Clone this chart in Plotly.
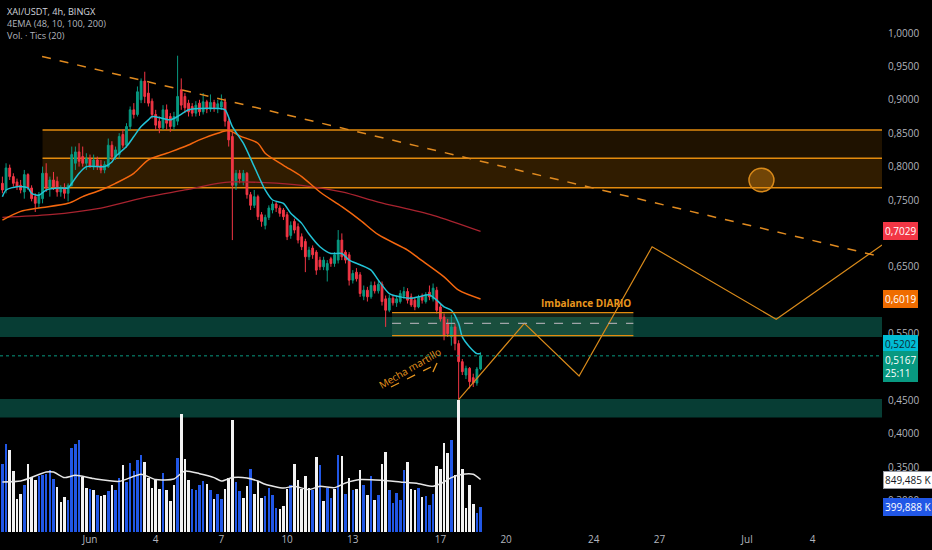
import plotly.graph_objects as go
import pandas as pd

# ---------------- data ----------------
bar_start = "2024-05-28 00:00"
n_bars = 132

opens = [
    0.775, 0.765, 0.798, 0.785, 0.777, 0.772, 0.762, 0.788, 0.768, 0.755,
    0.745, 0.752, 0.790, 0.768, 0.780, 0.778, 0.762, 0.768, 0.760, 0.772,
    0.805, 0.822, 0.815, 0.805, 0.812, 0.800, 0.810, 0.802, 0.795, 0.800,
    0.832, 0.815, 0.818, 0.848, 0.832, 0.860, 0.885, 0.878, 0.900, 0.928,
    0.910, 0.898, 0.878, 0.868, 0.858, 0.885, 0.875, 0.860, 0.868, 0.915,
    0.905, 0.895, 0.890, 0.880, 0.895, 0.882, 0.897, 0.886, 0.896, 0.887,
    0.889, 0.897, 0.868, 0.845, 0.772, 0.790, 0.778, 0.790, 0.758, 0.742,
    0.755, 0.728, 0.712, 0.724, 0.735, 0.744, 0.738, 0.735, 0.728, 0.697,
    0.718, 0.710, 0.695, 0.688, 0.665, 0.678, 0.672, 0.660, 0.650, 0.645,
    0.662, 0.655, 0.660, 0.690, 0.672, 0.668, 0.630, 0.642, 0.638, 0.606,
    0.615, 0.605, 0.622, 0.614, 0.624, 0.602, 0.585, 0.603, 0.596, 0.598,
    0.606, 0.613, 0.605, 0.600, 0.590, 0.606, 0.598, 0.612, 0.602, 0.615,
    0.590, 0.575, 0.565, 0.545, 0.560, 0.535, 0.508, 0.488, 0.498, 0.484,
    0.476, 0.497,
]
highs = [
    0.785, 0.805, 0.803, 0.790, 0.782, 0.780, 0.795, 0.790, 0.772, 0.760,
    0.762, 0.800, 0.805, 0.785, 0.792, 0.785, 0.772, 0.775, 0.775, 0.830,
    0.830, 0.835, 0.830, 0.820, 0.818, 0.818, 0.815, 0.810, 0.808, 0.842,
    0.838, 0.830, 0.850, 0.856, 0.865, 0.890, 0.895, 0.920, 0.932, 0.942,
    0.925, 0.902, 0.885, 0.875, 0.892, 0.893, 0.880, 0.882, 0.966, 0.932,
    0.910, 0.900, 0.895, 0.898, 0.900, 0.910, 0.900, 0.908, 0.900, 0.900,
    0.908, 0.902, 0.872, 0.852, 0.795, 0.795, 0.795, 0.792, 0.762, 0.765,
    0.758, 0.732, 0.728, 0.742, 0.748, 0.748, 0.742, 0.738, 0.732, 0.718,
    0.722, 0.715, 0.700, 0.692, 0.680, 0.682, 0.675, 0.665, 0.665, 0.660,
    0.665, 0.672, 0.705, 0.700, 0.675, 0.672, 0.645, 0.648, 0.642, 0.622,
    0.620, 0.628, 0.628, 0.630, 0.628, 0.607, 0.608, 0.607, 0.607, 0.615,
    0.620, 0.618, 0.610, 0.605, 0.608, 0.610, 0.612, 0.622, 0.625, 0.620,
    0.595, 0.580, 0.572, 0.578, 0.565, 0.540, 0.512, 0.502, 0.500, 0.490,
    0.500, 0.522,
]
lows = [
    0.760, 0.760, 0.780, 0.770, 0.765, 0.760, 0.752, 0.765, 0.748, 0.732,
    0.738, 0.745, 0.762, 0.755, 0.765, 0.755, 0.755, 0.752, 0.748, 0.770,
    0.795, 0.800, 0.800, 0.795, 0.798, 0.795, 0.795, 0.790, 0.790, 0.798,
    0.810, 0.810, 0.812, 0.828, 0.828, 0.855, 0.872, 0.875, 0.895, 0.895,
    0.890, 0.872, 0.855, 0.850, 0.855, 0.855, 0.852, 0.855, 0.862, 0.885,
    0.880, 0.875, 0.875, 0.875, 0.876, 0.878, 0.880, 0.882, 0.882, 0.880,
    0.885, 0.860, 0.830, 0.690, 0.765, 0.775, 0.772, 0.752, 0.735, 0.738,
    0.720, 0.710, 0.706, 0.720, 0.730, 0.732, 0.725, 0.720, 0.690, 0.692,
    0.700, 0.685, 0.675, 0.642, 0.660, 0.662, 0.638, 0.645, 0.645, 0.628,
    0.650, 0.650, 0.655, 0.660, 0.655, 0.622, 0.625, 0.628, 0.605, 0.600,
    0.598, 0.602, 0.610, 0.610, 0.592, 0.560, 0.582, 0.592, 0.590, 0.595,
    0.602, 0.595, 0.590, 0.585, 0.588, 0.595, 0.595, 0.600, 0.598, 0.580,
    0.568, 0.540, 0.545, 0.532, 0.525, 0.451, 0.488, 0.482, 0.468, 0.470,
    0.472, 0.495,
]
closes = [
    0.765, 0.798, 0.785, 0.775, 0.770, 0.765, 0.788, 0.768, 0.752, 0.745,
    0.758, 0.790, 0.768, 0.780, 0.770, 0.762, 0.768, 0.760, 0.772, 0.818,
    0.822, 0.808, 0.805, 0.812, 0.800, 0.810, 0.800, 0.795, 0.803, 0.832,
    0.815, 0.825, 0.845, 0.832, 0.860, 0.885, 0.878, 0.912, 0.928, 0.905,
    0.895, 0.878, 0.862, 0.858, 0.885, 0.865, 0.860, 0.875, 0.905, 0.892,
    0.888, 0.882, 0.880, 0.892, 0.882, 0.897, 0.886, 0.896, 0.887, 0.894,
    0.897, 0.868, 0.840, 0.772, 0.790, 0.782, 0.790, 0.758, 0.742, 0.755,
    0.725, 0.718, 0.724, 0.738, 0.744, 0.738, 0.730, 0.725, 0.695, 0.712,
    0.705, 0.690, 0.680, 0.665, 0.675, 0.668, 0.645, 0.650, 0.660, 0.655,
    0.655, 0.668, 0.690, 0.665, 0.660, 0.630, 0.640, 0.632, 0.610, 0.615,
    0.605, 0.622, 0.614, 0.624, 0.598, 0.585, 0.603, 0.596, 0.602, 0.610,
    0.613, 0.600, 0.593, 0.590, 0.604, 0.600, 0.608, 0.605, 0.618, 0.585,
    0.572, 0.548, 0.550, 0.560, 0.535, 0.508, 0.493, 0.498, 0.478, 0.476,
    0.497, 0.5167,
]

volumes_k = [
    1107, 1430, 1322, 987, 540, 621, 755, 1107, 890, 848,
    901, 917, 945, 1010, 858, 728, 485, 566, 524, 1366,
    1430, 1484, 890, 718, 702, 686, 605, 578, 605, 663,
    755, 686, 880, 1079, 809, 1117, 987, 1160, 1241, 1133,
    880, 718, 836, 702, 955, 686, 502, 755, 1204, 1904,
    1188, 848, 702, 675, 755, 825, 772, 675, 540, 610,
    540, 702, 880, 1819, 809, 663, 557, 740, 1026, 621,
    825, 557, 578, 718, 594, 395, 379, 416, 702, 755,
    1107, 848, 702, 901, 718, 686, 1214, 1079, 502, 718,
    557, 702, 1241, 1225, 610, 880, 686, 702, 1010, 755,
    594, 901, 524, 594, 1107, 1294, 675, 469, 631, 513,
    1010, 1133, 702, 675, 718, 566, 578, 432, 610, 1074,
    1026, 1447, 1278, 1495, 917, 2131, 1026, 395, 755, 448,
    307, 399.888,
]
volume_kind = [
    "B", "B", "W", "W", "W", "W", "B", "W", "W", "W",
    "B", "B", "B", "B", "B", "W", "W", "W", "B", "B",
    "B", "B", "W", "W", "B", "W", "B", "W", "W", "B",
    "W", "B", "B", "W", "B", "B", "B", "B", "B", "W",
    "W", "W", "W", "W", "B", "W", "W", "W", "B", "W",
    "W", "W", "B", "B", "B", "B", "W", "B", "W", "B",
    "B", "W", "W", "W", "B", "B", "W", "W", "B", "W",
    "W", "W", "B", "B", "B", "B", "W", "W", "W", "B",
    "W", "W", "W", "W", "W", "B", "W", "B", "W", "B",
    "B", "W", "B", "W", "B", "W", "B", "W", "W", "B",
    "W", "B", "W", "B", "W", "W", "B", "B", "B", "B",
    "B", "W", "W", "W", "B", "W", "B", "B", "B", "W",
    "W", "W", "W", "B", "W", "W", "W", "W", "W", "W",
    "B", "B",
]

# volume moving average (read at sample bars)
vma_idx = [0, 5, 12, 14, 17, 20, 25, 32, 38, 42, 47, 50, 54, 58, 60, 63, 67, 70,
           72, 77, 80, 84, 87, 91, 94, 98, 104, 109, 114, 118, 121, 123, 126, 129, 131]
vma_k = [809, 825, 970, 970, 880, 917, 864, 820, 934, 848, 858, 987, 944, 880, 825,
         880, 875, 825, 772, 712, 740, 685, 740, 718, 793, 848, 836, 809, 782, 740,
         809, 880, 934, 934, 849.485]

# EMA lines (read at sample bars)
ema10_idx = [0, 1, 4, 7, 8, 10, 12, 15, 18, 19, 21, 23, 26, 28, 30, 31, 34, 36, 38, 40,
             41, 44, 46, 48, 51, 54, 59, 61, 63, 66, 69, 72, 74, 77, 79, 82, 84, 87, 90, 93,
             95, 98, 101, 103, 106, 109, 112, 114, 117, 119, 121, 123, 125, 126, 128, 130, 131]
ema10 = [0.755, 0.765, 0.770, 0.768, 0.760, 0.757, 0.765, 0.768, 0.768, 0.775,
         0.790, 0.800, 0.800, 0.800, 0.807, 0.815, 0.830, 0.845, 0.860, 0.870,
         0.875, 0.872, 0.870, 0.875, 0.885, 0.887, 0.887, 0.885, 0.860, 0.835,
         0.800, 0.765, 0.750, 0.745, 0.730, 0.715, 0.699, 0.680, 0.670, 0.670,
         0.660, 0.653, 0.645, 0.630, 0.610, 0.605, 0.603, 0.605, 0.608, 0.600,
         0.590, 0.585, 0.565, 0.545, 0.530, 0.520, 0.5202]
ema48_idx = [0, 5, 10, 18, 22, 27, 31, 36, 40, 45, 50, 54, 59, 62, 65, 70, 72, 77, 82,
             87, 93, 98, 103, 111, 114, 121, 125, 131]
ema48 = [0.720, 0.733, 0.738, 0.745, 0.755, 0.765, 0.775, 0.790, 0.810, 0.820,
         0.830, 0.840, 0.850, 0.854, 0.846, 0.835, 0.820, 0.802, 0.785, 0.762,
         0.740, 0.720, 0.698, 0.675, 0.663, 0.635, 0.615, 0.6019]
ema100_idx = [0, 13, 27, 40, 50, 59, 63, 72, 82, 93, 103, 118, 131]
ema100 = [0.724, 0.728, 0.738, 0.755, 0.765, 0.775, 0.777, 0.776, 0.772, 0.762,
          0.747, 0.727, 0.7029]

# projected path drawn on the chart
path_times = ["2024-06-17 20:00", "2024-06-20 20:00", "2024-06-23 08:00",
              "2024-06-26 16:00", "2024-07-02 08:00", "2024-07-07 04:00"]
path_prices = [0.451, 0.5654, 0.4865, 0.680, 0.5714, 0.6826]

price_ticks = [0.30, 0.35, 0.40, 0.45, 0.55, 0.65, 0.75, 0.80, 0.85, 0.90, 0.95, 1.00]
date_ticks = ["2024-06-01", "2024-06-04", "2024-06-07", "2024-06-10", "2024-06-13",
              "2024-06-17", "2024-06-20", "2024-06-24", "2024-06-27", "2024-07-01",
              "2024-07-04"]
date_tick_text = ["Jun", "4", "7", "10", "13", "17", "20", "24", "27", "Jul", "4"]

# ---------------- figure ----------------
times = pd.date_range(bar_start, periods=n_bars, freq="4h")
FONT = "Open Sans"
GREEN = "#089981"
RED = "#f23645"
ORANGE_LINE = "#e38b0e"
TXT = "#b2b5be"

px_day = 21.9
jun1 = pd.Timestamp("2024-06-01")
x_start = jun1 - pd.Timedelta(days=90 / px_day)
x_end = jun1 + pd.Timedelta(days=792 / px_day)

fig = go.Figure()

vol_color_map = {"B": "#2157e6", "W": "#f2f2f2"}
fig.add_trace(go.Bar(
    x=times, y=volumes_k, yaxis="y2",
    marker=dict(color=[vol_color_map[k] for k in volume_kind], line=dict(width=0)),
    width=4 * 3600 * 1000 * 0.7, hoverinfo="skip", showlegend=False,
))
fig.add_trace(go.Scatter(
    x=[times[i] for i in vma_idx], y=vma_k, yaxis="y2", mode="lines",
    line=dict(color="#e6e6e6", width=1.5, shape="spline", smoothing=0.6),
    hoverinfo="skip", showlegend=False,
))

fig.add_trace(go.Scatter(
    x=[times[i] for i in ema100_idx], y=ema100, mode="lines",
    line=dict(color="#a8232f", width=1.3, shape="spline", smoothing=0.8),
    hoverinfo="skip", showlegend=False,
))
fig.add_trace(go.Scatter(
    x=[times[i] for i in ema48_idx], y=ema48, mode="lines",
    line=dict(color="#f5670e", width=1.5, shape="spline", smoothing=0.8),
    hoverinfo="skip", showlegend=False,
))
fig.add_trace(go.Candlestick(
    x=times, open=opens, high=highs, low=lows, close=closes,
    increasing=dict(line=dict(color=GREEN, width=1), fillcolor=GREEN),
    decreasing=dict(line=dict(color=RED, width=1), fillcolor=RED),
    whiskerwidth=0, hoverinfo="skip", showlegend=False,
))
fig.add_trace(go.Scatter(
    x=[times[i] for i in ema10_idx], y=ema10, mode="lines",
    line=dict(color="#22c3d6", width=1.5, shape="spline", smoothing=0.7),
    hoverinfo="skip", showlegend=False,
))
fig.add_trace(go.Scatter(
    x=path_times, y=path_prices, mode="lines",
    line=dict(color="#d98a1a", width=1.2),
    hoverinfo="skip", showlegend=False,
))

shapes = []
zone_x0 = "2024-05-29 20:00"
# orange zone
shapes.append(dict(type="rect", xref="x", yref="y", x0=zone_x0, x1=x_end,
                   y0=0.7684, y1=0.8548, fillcolor="rgba(255,152,0,0.12)",
                   line=dict(width=0), layer="below"))
shapes.append(dict(type="rect", xref="x", yref="y", x0=zone_x0, x1=x_end,
                   y0=0.7684, y1=0.8124, fillcolor="rgba(255,152,0,0.08)",
                   line=dict(width=0), layer="below"))
for lvl in (0.8548, 0.8124, 0.7684):
    shapes.append(dict(type="line", xref="x", yref="y", x0=zone_x0, x1=x_end,
                       y0=lvl, y1=lvl, line=dict(color=ORANGE_LINE, width=1.5),
                       layer="below"))
# teal zones
for lo, hi in ((0.545, 0.5749), (0.4245, 0.452)):
    shapes.append(dict(type="rect", xref="paper", yref="y", x0=0, x1=1,
                       y0=lo, y1=hi, fillcolor="#073d34", line=dict(width=0),
                       layer="below"))
# imbalance box
imb_x0, imb_x1 = "2024-06-14 19:00", "2024-06-25 19:30"
shapes.append(dict(type="rect", xref="x", yref="y", x0=imb_x0, x1=imb_x1,
                   y0=0.5469, y1=0.5813, fillcolor="rgba(90,140,95,0.22)",
                   line=dict(width=0), layer="below"))
for lvl in (0.5813, 0.5469):
    shapes.append(dict(type="line", xref="x", yref="y", x0=imb_x0, x1=imb_x1,
                       y0=lvl, y1=lvl, line=dict(color=ORANGE_LINE, width=1.3)))
shapes.append(dict(type="line", xref="x", yref="y", x0=imb_x0, x1=imb_x1,
                   y0=0.5654, y1=0.5654, line=dict(color="#a0a4a8", width=1.3, dash="dash")))
# current price dotted line
shapes.append(dict(type="line", xref="paper", yref="y", x0=0, x1=1, y0=0.5167, y1=0.5167,
                   line=dict(color=GREEN, width=1, dash="dot")))
# descending dashed trend line
shapes.append(dict(type="line", xref="x", yref="y", x0="2024-05-29 19:30", y0=0.9648,
                   x1=x_end, y1=0.6647, line=dict(color="#e08a1f", width=1.5, dash="dash")))
# circle
shapes.append(dict(type="circle", xref="x", yref="y", x0="2024-07-01 02:10",
                   x1="2024-07-02 05:30", y0=0.7624, y1=0.7975,
                   fillcolor="rgba(235,145,20,0.35)", line=dict(color="#d98a1a", width=1.5)))
# hammer arrow
shapes.append(dict(type="line", xref="x", yref="y", x0="2024-06-14 17:50", y0=0.470,
                   x1="2024-06-16 13:40", y1=0.500,
                   line=dict(color="#e8961e", width=1.3, dash="dash")))
shapes.append(dict(type="line", xref="x", yref="y", x0="2024-06-16 15:50", y0=0.4925,
                   x1="2024-06-16 20:20", y1=0.506,
                   line=dict(color="#e8961e", width=1.3)))

annotations = []
legend_text = ("<span style='color:#d1d4dc'>XAI/USDT, 4h, BINGX</span><br>"
               f"<span style='color:{TXT}'>4EMA (48, 10, 100, 200)</span><br>"
               f"<span style='color:{TXT}'>Vol. · Tics (20)</span>")
annotations.append(dict(text=legend_text, xref="paper", yref="paper", x=0, xshift=5,
                        y=1, yshift=-3, xanchor="left", yanchor="top", align="left",
                        showarrow=False, font=dict(family=FONT, size=9.2, color=TXT)))

annotations.append(dict(text="<b>Imbalance DIARIO</b>", xref="x", yref="y", x=imb_x1,
                        y=0.5813, xanchor="right", yanchor="bottom", yshift=1,
                        showarrow=False, font=dict(family=FONT, size=10, color="#e8961e")))
annotations.append(dict(text="Mecha martillo", xref="x", yref="y", x="2024-06-15 14:40",
                        y=0.4985, textangle=-30, showarrow=False,
                        font=dict(family=FONT, size=10, color="#e8961e")))

def price_label(text, y, bg, fg, yref="y", yshift=0, yanchor="middle", border=None):
    return dict(text=text, xref="paper", yref=yref, x=1, y=y, xanchor="left",
                yanchor=yanchor, xshift=1, yshift=yshift, showarrow=False,
                bgcolor=bg, bordercolor=border or bg, borderwidth=1, borderpad=1,
                align="left", font=dict(family=FONT, size=10, color=fg))

annotations.append(price_label("0,7029", 0.7029, "#f23645", "#ffffff"))
annotations.append(price_label("0,6019", 0.6019, "#ef6c00", "#ffffff"))
annotations.append(price_label("0,5202", 0.5202, "#00bcd4", "#0d2a33", yshift=9.5))
annotations.append(price_label("0,5167<br>25:11", 0.5167, GREEN, "#ffffff",
                               yanchor="top", yshift=4.5))
annotations.append(price_label("849,485 K", 849.485, "#ffffff", "#131722", yref="y2",
                               border="#9598a1"))
annotations.append(price_label("399,888 K", 399.888, "#2157e6", "#ffffff", yref="y2"))

fig.update_layout(
    width=932, height=550,
    margin=dict(l=0, r=50, t=0, b=18),
    paper_bgcolor="#000000", plot_bgcolor="#000000",
    showlegend=False, hovermode=False,
    bargap=0,
    shapes=shapes, annotations=annotations,
    font=dict(family=FONT, color=TXT, size=10),
    xaxis=dict(type="date", range=[x_start, x_end], showgrid=False, zeroline=False,
               rangeslider=dict(visible=False), tickvals=date_ticks,
               ticktext=date_tick_text, ticks="", showline=False,
               tickfont=dict(family=FONT, size=10, color=TXT)),
    yaxis=dict(range=[0.2530, 1.0494], side="right", showgrid=False, zeroline=False,
               tickvals=price_ticks, ticktext=[f"{v:.4f}".replace(".", ",") for v in price_ticks],
               ticks="", showline=False, ticklabelstandoff=5,
               tickfont=dict(family=FONT, size=10, color=TXT)),
    yaxis2=dict(range=[0, 8608], overlaying="y", visible=False, showgrid=False),
)

fig.write_html("out.html", config={"displayModeBar": False},
               post_script="document.body.style.margin='0';"
                           "document.body.style.background='#000000';"
                           "document.body.style.overflow='hidden';")
